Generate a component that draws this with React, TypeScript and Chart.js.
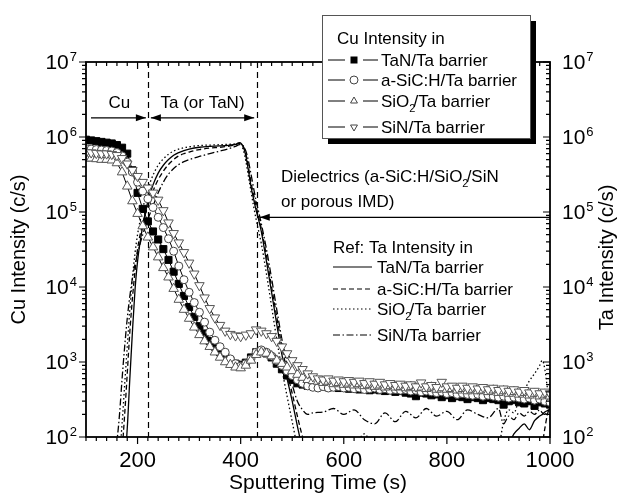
import React, { useEffect, useRef } from 'react';
import { Chart, registerables } from 'chart.js';

Chart.register(...registerables);

// ---------- data ----------
const cuTime = [
  100, 110, 120, 130, 140, 150, 160, 170, 180, 190,
  200, 210, 220, 230, 240, 250, 260, 270, 280, 290,
  300, 310, 320, 330, 340, 350, 360, 370, 380, 390,
  400, 410, 420, 430, 440, 450, 460, 470, 480, 490,
  500, 510, 520, 530, 540, 550, 560, 570, 580, 590,
  600, 610, 620, 630, 640, 650, 660, 670, 680, 690,
  700, 710, 720, 730, 740, 750, 760, 770, 780, 790,
  800, 810, 820, 830, 840, 850, 860, 870, 880, 890,
  900, 910, 920, 930, 940, 950, 960, 970, 980, 990,
  1000,
];

const cuTaN = [
  9.2e5, 9.0e5, 8.8e5, 8.6e5, 8.4e5, 8.2e5, 7.8e5, 7.2e5, 6.0e5, 3.6e5,
  1.8e5, 1.1e5, 7.5e4, 5.5e4, 4.3e4, 3.2e4, 2.3e4, 1.6e4, 1.1e4, 7.6e3,
  5.4e3, 4.0e3, 3.0e3, 2.4e3, 1.9e3, 1.6e3, 1.35e3, 1.2e3, 1.05e3, 950,
  920, 980, 1150, 1350, 1400, 1300, 1150, 950, 800, 660,
  580, 520, 500, 480, 490, 470, 480, 460, 470, 450,
  460, 440, 450, 430, 440, 420, 430, 420, 410, 420,
  400, 410, 390, 380, 350, 390, 380, 360, 370, 340,
  360, 330, 350, 340, 320, 340, 330, 310, 330, 320,
  310, 270, 300, 310, 290, 280, 300, 260, 290, 280,
  270,
];

const cuSiCH = [
  7.0e5, 6.9e5, 6.8e5, 6.7e5, 6.6e5, 6.5e5, 6.2e5, 5.6e5, 4.6e5, 3.4e5,
  2.5e5, 1.9e5, 1.5e5, 1.15e5, 8.5e4, 6.2e4, 4.4e4, 3.0e4, 1.9e4, 1.25e4,
  8.5e3, 6.2e3, 4.6e3, 3.4e3, 2.5e3, 1.95e3, 1.6e3, 1.35e3, 1.1e3, 950,
  880, 950, 1100, 1350, 1450, 1350, 1200, 1050, 900, 760,
  660, 580, 520, 480, 460, 450, 470, 450, 460, 470,
  450, 460, 440, 450, 430, 440, 450, 430, 440, 420,
  430, 420, 430, 410, 420, 400, 410, 400, 390, 400,
  380, 390, 370, 380, 370, 360, 370, 350, 360, 350,
  340, 350, 330, 340, 330, 320, 330, 310, 320, 300,
  290,
];

const cuSiO2 = [
  5.2e5, 5.2e5, 5.1e5, 5.0e5, 5.0e5, 4.9e5, 4.5e5, 3.4e5, 2.2e5, 1.4e5,
  9.5e4, 6.5e4, 4.6e4, 3.4e4, 2.5e4, 1.8e4, 1.35e4, 9.5e3, 6.8e3, 5.0e3,
  3.8e3, 2.9e3, 2.3e3, 1.9e3, 1.6e3, 1.35e3, 1.15e3, 1.0e3, 920, 850,
  830, 900, 1050, 1250, 1350, 1300, 1200, 1050, 950, 850,
  760, 680, 620, 580, 560, 550, 530, 550, 510, 530,
  500, 520, 490, 510, 480, 500, 470, 490, 460, 480,
  460, 470, 450, 470, 450, 460, 440, 460, 430, 450,
  430, 440, 420, 440, 410, 430, 410, 420, 400, 420,
  390, 410, 380, 400, 370, 390, 360, 380, 350, 370,
  350,
];

const cuSiN = [
  6.2e5, 6.2e5, 6.1e5, 6.0e5, 6.0e5, 5.9e5, 5.7e5, 5.2e5, 4.4e5, 3.6e5,
  3.0e5, 2.5e5, 2.1e5, 1.8e5, 1.45e5, 1.05e5, 7.2e4, 5.2e4, 3.9e4, 2.9e4,
  2.1e4, 1.5e4, 1.05e4, 7.2e3, 5.2e3, 3.9e3, 3.1e3, 2.6e3, 2.35e3, 2.25e3,
  2.2e3, 2.3e3, 2.4e3, 2.7e3, 2.6e3, 2.4e3, 2.2e3, 1.9e3, 1.6e3, 1.3e3,
  1.05e3, 900, 800, 700, 640, 600, 580, 600, 560, 580,
  550, 570, 540, 560, 520, 550, 510, 540, 500, 520,
  490, 510, 480, 500, 470, 530, 470, 490, 460, 540,
  470, 480, 450, 480, 450, 470, 440, 460, 430, 450,
  420, 440, 410, 430, 400, 420, 390, 410, 380, 400,
  380,
];

const taTime = [
  100, 150, 160, 165, 170, 175, 180, 185, 190, 195,
  200, 210, 220, 230, 240, 250, 260, 270, 280, 290,
  300, 320, 340, 360, 380, 390, 398, 405, 410, 415,
  420, 425, 430, 435, 440, 450, 460, 470, 480, 490,
  500, 510, 520, 530, 540, 560, 580, 600, 620, 640,
  660, 680, 700, 720, 740, 760, 780, 800, 820, 840,
  860, 880, 900, 910, 920, 930, 940, 950, 960, 970,
  980, 985, 990, 995, 1000,
];

const taTaN = [
  50, 50, 50, 50, 50, 50, 130, 600, 2500, 9000,
  2.2e4, 6.5e4, 1.4e5, 2.3e5, 3.3e5, 4.2e5, 5.0e5, 5.7e5, 6.2e5, 6.6e5,
  6.9e5, 7.3e5, 7.5e5, 7.6e5, 7.8e5, 8.0e5, 8.4e5, 7.4e5, 5.6e5, 3.6e5,
  2.2e5, 1.5e5, 1.05e5, 7.8e4, 5.5e4, 2.2e4, 8.5e3, 3.2e3, 1.25e3, 600,
  300, 140, 70, 50, 50, 50, 50, 50, 50, 50,
  50, 50, 50, 50, 50, 50, 50, 50, 50, 50,
  50, 50, 50, 60, 80, 110, 130, 150, 125, 165,
  190, 200, 215, 225, 235,
];

const taSiCH = [
  50, 50, 50, 50, 70, 200, 700, 2500, 7000, 1.6e4,
  3.2e4, 7.0e4, 1.2e5, 1.9e5, 2.7e5, 3.5e5, 4.3e5, 5.0e5, 5.6e5, 6.0e5,
  6.3e5, 6.8e5, 7.1e5, 7.3e5, 7.6e5, 7.9e5, 8.2e5, 7.5e5, 6.0e5, 4.0e5,
  2.5e5, 1.7e5, 1.2e5, 8.5e4, 6.0e4, 2.6e4, 1.0e4, 4.0e3, 1.6e3, 750,
  380, 190, 100, 60, 50, 50, 50, 50, 50, 50,
  50, 50, 50, 50, 50, 50, 50, 50, 50, 50,
  50, 50, 50, 50, 50, 50, 50, 50, 50, 50,
  60, 80, 130, 200, 260,
];

const taSiO2 = [
  50, 50, 50, 60, 150, 500, 1600, 5000, 1.3e4, 2.8e4,
  5.0e4, 1.1e5, 2.0e5, 3.1e5, 4.2e5, 5.1e5, 5.9e5, 6.5e5, 6.9e5, 7.2e5,
  7.4e5, 7.7e5, 7.8e5, 7.9e5, 8.0e5, 8.1e5, 8.3e5, 6.8e5, 4.8e5, 3.0e5,
  1.9e5, 1.2e5, 8.0e4, 5.5e4, 3.8e4, 1.5e4, 5.5e3, 2.0e3, 800, 350,
  160, 75, 50, 50, 50, 50, 50, 50, 70, 110,
  60, 50, 50, 50, 50, 50, 50, 50, 50, 50,
  50, 50, 70, 160, 230, 210, 320, 420, 560, 700,
  900, 1050, 800, 450, 300,
];

const taSiN = [
  50, 50, 90, 200, 600, 1600, 3800, 7500, 1.3e4, 2.0e4,
  2.8e4, 5.0e4, 8.0e4, 1.2e5, 1.8e5, 2.5e5, 3.2e5, 3.8e5, 4.3e5, 4.7e5,
  5.0e5, 5.5e5, 6.0e5, 6.5e5, 7.1e5, 7.5e5, 7.9e5, 7.6e5, 6.5e5, 4.8e5,
  3.2e5, 2.1e5, 1.4e5, 1.0e5, 7.0e4, 3.2e4, 1.3e4, 5.0e3, 2.0e3, 900,
  500, 300, 230, 200, 210, 215, 240, 200, 230, 170,
  150, 210, 160, 220, 180, 240, 190, 220, 170, 230,
  200, 180, 240, 150, 190, 170, 210, 190, 220, 200,
  230, 210, 200, 220, 230,
];

const xTickLabels = [200, 400, 600, 800, 1000];
const yDecades = [2, 3, 4, 5, 6, 7];
const layerBoundaries = [220, 432];

const cuLegend = ['TaN/Ta barrier', 'a-SiC:H/Ta barrier', 'SiO2/Ta barrier', 'SiN/Ta barrier'];
const taLegend = ['TaN/Ta barrier', 'a-SiC:H/Ta barrier', 'SiO2/Ta barrier', 'SiN/Ta barrier'];

// ---------- helpers ----------
const FAMILY = '"Liberation Sans", Arial, Helvetica, sans-serif';
const f = (px: number) => `${px}px ${FAMILY}`;

const taDashes: number[][] = [[], [5, 3], [1.5, 2.5], [7, 2.5, 1.5, 2.5]];
const cuMarkers = ['square', 'circle', 'triUp', 'triDown'];

function drawMarker(ctx: CanvasRenderingContext2D, kind: string, x: number, y: number, r: number) {
  ctx.save();
  ctx.setLineDash([]);
  ctx.lineWidth = 1;
  ctx.strokeStyle = '#444';
  ctx.fillStyle = '#fff';
  ctx.beginPath();
  if (kind === 'square') {
    ctx.fillStyle = '#000';
    ctx.fillRect(x - r, y - r, 2 * r, 2 * r);
    ctx.restore();
    return;
  } else if (kind === 'circle') {
    ctx.arc(x, y, r, 0, Math.PI * 2);
  } else if (kind === 'triUp') {
    ctx.moveTo(x, y - r);
    ctx.lineTo(x + r * 0.866, y + r / 2);
    ctx.lineTo(x - r * 0.866, y + r / 2);
    ctx.closePath();
  } else {
    ctx.moveTo(x, y + r);
    ctx.lineTo(x + r * 0.866, y - r / 2);
    ctx.lineTo(x - r * 0.866, y - r / 2);
    ctx.closePath();
  }
  ctx.fill();
  ctx.stroke();
  ctx.restore();
}

// draw text, rendering "2" after "SiO" as a subscript
function drawLabel(ctx: CanvasRenderingContext2D, text: string, x: number, y: number, size: number) {
  const parts = text.split('SiO2');
  let cx = x;
  ctx.textAlign = 'left';
  parts.forEach((p, i) => {
    ctx.font = f(size);
    ctx.fillText(p, cx, y);
    cx += ctx.measureText(p).width;
    if (i < parts.length - 1) {
      ctx.fillText('SiO', cx, y);
      cx += ctx.measureText('SiO').width;
      ctx.font = f(Math.round(size * 0.65));
      ctx.fillText('2', cx, y + 5);
      cx += ctx.measureText('2').width * 0.7;
    }
  });
  return cx;
}

function arrowHead(ctx: CanvasRenderingContext2D, x: number, y: number, dir: number) {
  ctx.beginPath();
  ctx.moveTo(x, y);
  ctx.lineTo(x - dir * 10, y - 3.5);
  ctx.lineTo(x - dir * 10, y + 3.5);
  ctx.closePath();
  ctx.fill();
}

const overlayPlugin = {
  id: 'overlay',
  beforeDatasetsDraw(chart: any) {
    const { ctx, chartArea: a, scales } = chart;
    ctx.save();
    ctx.strokeStyle = '#000';
    ctx.lineWidth = 1.2;
    ctx.setLineDash([6, 4]);
    for (const t of layerBoundaries) {
      const px = Math.round(scales.x.getPixelForValue(t)) + 0.5;
      ctx.beginPath();
      ctx.moveTo(px, a.top);
      ctx.lineTo(px, a.bottom);
      ctx.stroke();
    }
    ctx.restore();
  },
  afterDraw(chart: any) {
    const { ctx, chartArea: a, scales } = chart;
    const xs = scales.x;
    const ys = scales.y;
    ctx.save();
    ctx.fillStyle = '#000';
    ctx.strokeStyle = '#000';
    ctx.setLineDash([]);

    // frame
    ctx.lineWidth = 1.8;
    ctx.strokeRect(a.left, a.top, a.right - a.left, a.bottom - a.top);

    // x ticks
    ctx.lineWidth = 1.2;
    for (let t = 100; t <= 1000; t += 20) {
      const px = xs.getPixelForValue(t);
      const major = t % 200 === 0;
      const len = major ? 7 : 4;
      ctx.beginPath();
      ctx.moveTo(px, a.bottom);
      ctx.lineTo(px, a.bottom + len);
      ctx.moveTo(px, a.top);
      ctx.lineTo(px, a.top + len);
      ctx.stroke();
    }
    // y ticks (log)
    for (let d = 2; d <= 7; d++) {
      for (let m = 1; m <= 9; m++) {
        if (d === 7 && m > 1) break;
        const py = ys.getPixelForValue(m * Math.pow(10, d));
        const len = m === 1 ? 7 : 4;
        ctx.beginPath();
        ctx.moveTo(a.left, py);
        ctx.lineTo(a.left - len, py);
        ctx.moveTo(a.right, py);
        ctx.lineTo(a.right - len, py);
        ctx.stroke();
      }
    }

    // x tick labels
    ctx.font = f(22);
    ctx.textAlign = 'center';
    ctx.textBaseline = 'alphabetic';
    for (const t of xTickLabels) {
      ctx.fillText(String(t), xs.getPixelForValue(t), a.bottom + 30);
    }

    // y tick labels (10^n), both sides
    for (const d of yDecades) {
      const py = ys.getPixelForValue(Math.pow(10, d));
      ctx.textAlign = 'left';
      ctx.font = f(21);
      const w1 = ctx.measureText('10').width;
      ctx.font = f(13);
      const w2 = ctx.measureText(String(d)).width;
      // left
      const lx = a.left - 10 - w1 - w2;
      ctx.font = f(21);
      ctx.fillText('10', lx, py + 7);
      ctx.font = f(13);
      ctx.fillText(String(d), lx + w1 + 1, py - 1);
      // right
      const rx = a.right + 12;
      ctx.font = f(21);
      ctx.fillText('10', rx, py + 7);
      ctx.font = f(13);
      ctx.fillText(String(d), rx + w1 + 1, py - 1);
    }

    // axis titles
    ctx.font = f(21);
    ctx.textAlign = 'center';
    ctx.fillText('Sputtering Time (s)', (a.left + a.right) / 2, 489);
    ctx.save();
    ctx.translate(19, (a.top + a.bottom) / 2);
    ctx.rotate(-Math.PI / 2);
    ctx.textBaseline = 'middle';
    ctx.font = f(20);
    ctx.fillText('Cu Intensity (c/s)', 0, 0);
    ctx.restore();
    ctx.save();
    ctx.translate(607, (a.top + a.bottom) / 2 + 8);
    ctx.rotate(-Math.PI / 2);
    ctx.textBaseline = 'middle';
    ctx.font = f(20);
    ctx.fillText('Ta Intensity (c/s)', 0, 0);
    ctx.restore();

    // layer arrows
    const yArrow = ys.getPixelForValue(1.8e6);
    const xCuStart = xs.getPixelForValue(100) + 5;
    const xB1 = xs.getPixelForValue(layerBoundaries[0]);
    const xB2 = xs.getPixelForValue(layerBoundaries[1]);
    ctx.lineWidth = 1.2;
    ctx.beginPath();
    ctx.moveTo(xCuStart, yArrow);
    ctx.lineTo(xB1 - 2, yArrow);
    ctx.stroke();
    arrowHead(ctx, xB1 - 2, yArrow, 1);
    ctx.beginPath();
    ctx.moveTo(xB1 + 3, yArrow);
    ctx.lineTo(xB2 - 3, yArrow);
    ctx.stroke();
    arrowHead(ctx, xB1 + 3, yArrow, -1);
    arrowHead(ctx, xB2 - 3, yArrow, 1);
    ctx.font = f(17);
    ctx.textAlign = 'center';
    ctx.fillText('Cu', (xCuStart + xB1) / 2, yArrow - 10);
    ctx.fillText('Ta (or TaN)', (xB1 + xB2) / 2, yArrow - 10);

    // dielectric arrow + text
    const yD = ys.getPixelForValue(8.5e4);
    const xTip = xs.getPixelForValue(437);
    ctx.beginPath();
    ctx.moveTo(a.right, yD);
    ctx.lineTo(xTip, yD);
    ctx.stroke();
    arrowHead(ctx, xTip, yD, -1);
    drawLabel(ctx, 'Dielectrics (a-SiC:H/SiO2/SiN', 281, 182, 17);
    drawLabel(ctx, 'or porous IMD)', 281, 207, 17);

    // Cu legend box with shadow
    const bx = 322, by = 15, bw = 208, bh = 123;
    ctx.fillStyle = '#000';
    ctx.fillRect(bx + 6, by + 6, bw, bh);
    ctx.fillStyle = '#fff';
    ctx.fillRect(bx, by, bw, bh);
    ctx.strokeStyle = '#555';
    ctx.lineWidth = 1;
    ctx.strokeRect(bx + 0.5, by + 0.5, bw, bh);
    ctx.fillStyle = '#000';
    ctx.strokeStyle = '#000';
    drawLabel(ctx, 'Cu Intensity in', 337, 44, 17);
    const cuRows = [60, 80, 101, 127];
    cuLegend.forEach((lab, i) => {
      const y = cuRows[i];
      ctx.lineWidth = 1;
      ctx.beginPath();
      ctx.moveTo(328, y);
      ctx.lineTo(345, y);
      ctx.moveTo(363, y);
      ctx.lineTo(378, y);
      ctx.stroke();
      drawMarker(ctx, cuMarkers[i], 354, y, i === 0 ? 3.5 : 4);
      ctx.fillStyle = '#000';
      drawLabel(ctx, lab, 381, y + 6, 17);
    });

    // Ta legend
    drawLabel(ctx, 'Ref: Ta Intensity in', 333, 253, 17);
    const taRows = [267, 289, 309, 335];
    taLegend.forEach((lab, i) => {
      const y = taRows[i];
      ctx.lineWidth = 1.2;
      ctx.setLineDash(taDashes[i]);
      ctx.beginPath();
      ctx.moveTo(333, y);
      ctx.lineTo(372, y);
      ctx.stroke();
      ctx.setLineDash([]);
      drawLabel(ctx, lab, 377, y + 6, 17);
    });

    ctx.restore();
  },
};

export default function App() {
  const ref = useRef<HTMLCanvasElement | null>(null);

  useEffect(() => {
    if (!ref.current) return;
    const mk = (ys: number[]) => cuTime.map((t, i) => ({ x: t, y: ys[i] }));
    const mkTa = (ys: number[]) => taTime.map((t, i) => ({ x: t, y: ys[i] }));
    const cuSeries = [cuTaN, cuSiCH, cuSiO2, cuSiN];
    const taSeries = [taTaN, taSiCH, taSiO2, taSiN];
    const cuStyle = [
      { pointStyle: 'rect', pointRadius: 5, bg: '#000', bc: '#000', rot: 0 },
      { pointStyle: 'circle', pointRadius: 4, bg: '#fff', bc: '#444', rot: 0 },
      { pointStyle: 'triangle', pointRadius: 5.5, bg: '#fff', bc: '#555', rot: 0 },
      { pointStyle: 'triangle', pointRadius: 5.5, bg: '#fff', bc: '#555', rot: 180 },
    ];
    const datasets: any[] = [];
    taSeries.forEach((s, i) => {
      datasets.push({
        label: 'Ta ' + taLegend[i],
        data: mkTa(s),
        yAxisID: 'y2',
        borderColor: '#000',
        borderWidth: 1.3,
        borderDash: taDashes[i],
        pointRadius: 0,
        cubicInterpolationMode: 'monotone',
        fill: false,
        order: 10 + i,
      });
    });
    cuSeries.forEach((s, i) => {
      const st = cuStyle[i];
      datasets.push({
        label: 'Cu ' + cuLegend[i],
        data: mk(s),
        yAxisID: 'y',
        borderColor: '#000',
        borderWidth: 1,
        pointStyle: st.pointStyle,
        pointRadius: st.pointRadius,
        pointRotation: st.rot,
        pointBackgroundColor: st.bg,
        pointBorderColor: st.bc,
        pointBorderWidth: 1,
        fill: false,
        order: 4 - i,
      });
    });

    const chart = new Chart(ref.current, {
      type: 'line',
      data: { datasets },
      options: {
        animation: false,
        responsive: false,
        maintainAspectRatio: false,
        devicePixelRatio: 1,
        layout: { padding: { left: 86, right: 69, top: 62, bottom: 60 } },
        plugins: { legend: { display: false }, tooltip: { enabled: false } },
        events: [],
        scales: {
          x: { type: 'linear', min: 100, max: 1000, display: false },
          y: { type: 'logarithmic', min: 100, max: 1e7, display: false },
          y2: { type: 'logarithmic', min: 100, max: 1e7, display: false, position: 'right' },
        },
      } as any,
      plugins: [overlayPlugin],
    });
    return () => chart.destroy();
  }, []);

  return (
    <div style={{ position: 'fixed', left: 0, top: 0, width: 619, height: 497, background: '#fff' }}>
      <canvas ref={ref} width={619} height={497} style={{ display: 'block' }} />
    </div>
  );
}
